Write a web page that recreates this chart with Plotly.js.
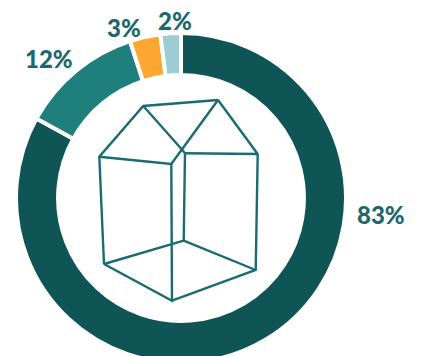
<!DOCTYPE html>
<html>
<head>
<meta charset="utf-8">
<script src="https://cdn.plot.ly/plotly-3.0.1.min.js"></script>
<style>
html,body{margin:0;padding:0;background:#fff;overflow:hidden;width:422px;height:356px}
#chart{width:422px;height:366px}
</style>
</head>
<body>
<div id="chart"></div>
<script>
// Share of each category, clockwise from twelve o'clock
const categories = ['A', 'B', 'C', 'D'];
const shares = [83, 12, 3, 2];
const sliceColors = ['#0f5555', '#1f7f7c', '#fda733', '#9ccdd2'];

// Where each share's label sits
const labelX = [381, 49, 124, 175];
const labelY = [214, 58, 27, 20];

// Wireframe house in the centre of the ring; null breaks the pen stroke
const houseX = [104, 99.3, 143.3, 218, 171.3, 99.3, null, 143.3, 181.7, null,
  171.3, 172, 104, 183.7, 185, 181.7, null, 185, 257.7, 218, null,
  257.7, 255.7, 172, null, 183.7, 255.7];
const houseY = [264, 156.7, 106, 100, 164, 156.7, null, 106, 149.3, null,
  164, 300.7, 264, 240.7, 153.3, 149.3, null, 153.3, 154, 100, null,
  154, 270, 300.7, null, 240.7, 270];

const traces = [
  {
    type: 'pie',
    labels: categories,
    values: shares,
    sort: false,
    direction: 'clockwise',
    rotation: 0,
    hole: 0.745,
    domain: {x: [16 / 422, 346 / 422], y: [3 / 366, 333 / 366]},
    textinfo: 'none',
    hoverinfo: 'skip',
    showlegend: false,
    marker: {colors: sliceColors, line: {color: '#ffffff', width: 4}}
  },
  {
    type: 'scatter',
    mode: 'lines',
    x: houseX,
    y: houseY,
    connectgaps: false,
    hoverinfo: 'skip',
    showlegend: false,
    line: {color: '#1b6b72', width: 2.4}
  }
];

const hiddenAxis = {visible: false, fixedrange: true};

const layout = {
  width: 422,
  height: 366,
  margin: {l: 0, r: 0, t: 0, b: 0, autoexpand: false},
  paper_bgcolor: '#ffffff',
  plot_bgcolor: 'rgba(0,0,0,0)',
  showlegend: false,
  xaxis: Object.assign({range: [0, 422]}, hiddenAxis),
  yaxis: Object.assign({range: [366, 0]}, hiddenAxis),
  annotations: shares.map((v, i) => ({
    x: labelX[i],
    y: labelY[i],
    xref: 'x',
    yref: 'y',
    text: v + '%',
    showarrow: false,
    xanchor: 'center',
    yanchor: 'middle',
    font: {family: 'Lato, sans-serif', size: 24, color: '#1a686d', weight: 900}
  }))
};

Plotly.newPlot('chart', traces, layout, {displayModeBar: false, staticPlot: true});
</script>
</body>
</html>
